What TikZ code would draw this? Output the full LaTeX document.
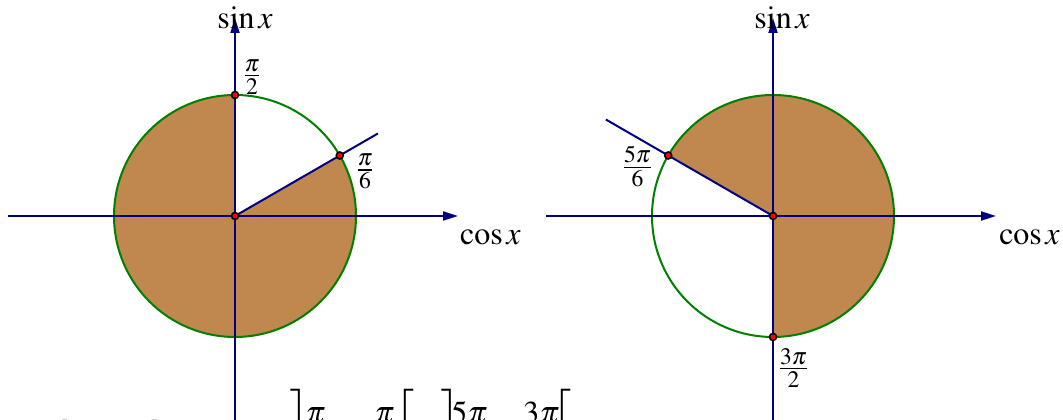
\documentclass[tikz,border=0pt]{standalone}
\usepackage{mathptmx}
\usepackage{fontspec}
\setmainfont{Liberation Serif}
\usetikzlibrary{arrows.meta,calc}
\definecolor{axisblue}{RGB}{0,0,128}
\definecolor{circgreen}{RGB}{0,128,0}
\definecolor{sectorbrown}{RGB}{192,135,78}
\newcommand{\tallstrut}{\rule[-34pt]{0pt}{84pt}}
\begin{document}
\begin{tikzpicture}[x=1pt,y=1pt,
  font=\fontsize{32}{38}\selectfont,
  axis/.style={draw=axisblue,line width=2pt,-{Triangle[length=15pt,width=9pt]}},
  ray/.style={draw=axisblue,line width=2pt},
  unitcircle/.style={draw=circgreen,line width=2pt},
  sector/.style={fill=sectorbrown},
  pt/.style={circle,fill=red,draw=black,line width=1.6pt,inner sep=0pt,minimum size=7pt},
  lbl/.style={inner sep=0pt}]
\useasboundingbox (0,0) rectangle (1063,420);
\clip (0,0) rectangle (1063,420);
% ---------- left figure ----------
\coordinate (cL) at (235,204);
\fill[sector] (cL) -- ++(90:121) arc[start angle=90,end angle=390,radius=121] -- cycle;
\draw[unitcircle] (cL) circle[radius=121];
\coordinate (xLs) at (8,204);
\coordinate (xLe) at (458,204);
\coordinate (yLs) at (235,0);
\coordinate (yLe) at (235,402);
\draw[axis] (xLs) -- (xLe);
\draw[axis] (yLs) -- (yLe);
\coordinate (rL) at ($(cL)+(30:165)$);
\coordinate (aL6) at ($(cL)+(30:121)$);
\coordinate (aL2) at ($(cL)+(90:121)$);
\draw[ray] (cL) -- (rL);
\node[pt] (pL6) at (aL6) {};
\node[pt] (pL2) at (aL2) {};
\node[pt] (oL) at (cL) {};
\node[lbl,anchor=base] (sinL) at (245,391) {$\sin x$};
\node[lbl,anchor=base] (cosL) at (490.5,175) {$\cos x$};
\node[lbl] (lpi2) at (252,343) {$\frac{\pi}{2}$};
\node[lbl] (lpi6) at (365,248.5) {$\frac{\pi}{6}$};
% ---------- right figure ----------
\coordinate (cR) at (773,204);
\fill[sector] (cR) -- ++(-90:121) arc[start angle=-90,end angle=150,radius=121] -- cycle;
\draw[unitcircle] (cR) circle[radius=121];
\coordinate (xRs) at (546,204);
\coordinate (xRe) at (996,204);
\coordinate (yRs) at (773,0);
\coordinate (yRe) at (773,402);
\draw[axis] (xRs) -- (xRe);
\draw[axis] (yRs) -- (yRe);
\coordinate (rR) at ($(cR)+(150:193)$);
\coordinate (aR56) at ($(cR)+(150:121)$);
\coordinate (aR32) at ($(cR)+(270:121)$);
\draw[ray] (cR) -- (rR);
\node[pt] (pR56) at (aR56) {};
\node[pt] (pR32) at (aR32) {};
\node[pt] (oR) at (cR) {};
\node[lbl,anchor=base] (sinR) at (782,391) {$\sin x$};
\node[lbl,anchor=base] (cosR) at (1029.5,175) {$\cos x$};
\node[lbl] (rpi56) at (637.5,253.5) {$\frac{5\pi}{6}$};
\node[lbl] (rpi32) at (793.5,52) {$\frac{3\pi}{2}$};
% ---------- bottom text (cut by the frame) ----------
\node[lbl,anchor=base west] (concl) at (-1,-23) {On obtient donc};
\node[lbl,anchor=base west] (sol) at (243,-25) {$\displaystyle S=\hspace{-8pt}\left]\tallstrut\hspace{-5pt}\frac{\pi}{2}\hspace{17pt};\hspace{17pt}\frac{\pi}{6}\right[\hspace{-3pt}\cup\left]\tallstrut\hspace{-10pt}\frac{5\pi}{6}\hspace{11pt};\hspace{10pt}\frac{3\pi}{2}\hspace{-8pt}\right[$};
\end{tikzpicture}
\end{document}
